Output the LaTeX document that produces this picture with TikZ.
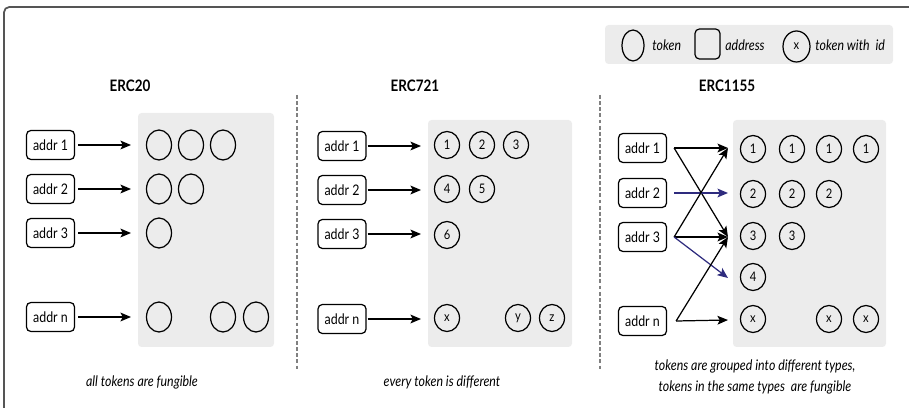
\documentclass[tikz,border=0pt]{standalone}
\usepackage{fontspec}
\setmainfont{Lato}[FakeStretch=0.85]
\usetikzlibrary{shapes.geometric,arrows.meta}
\definecolor{panel}{HTML}{ECECEC}
\definecolor{navy}{HTML}{2E2B7E}
\definecolor{framecol}{HTML}{555555}
\tikzset{
  addr/.style={draw, rounded corners=2.5pt, minimum width=0.96cm, minimum height=0.58cm,
    inner sep=0pt, line width=0.7pt, font=\fontsize{8.3}{9}\selectfont},
  tok/.style={draw, ellipse, minimum width=0.5cm, minimum height=0.6cm, inner sep=0pt, line width=0.7pt},
  idtok/.style={draw, ellipse, minimum width=0.5cm, minimum height=0.54cm, inner sep=0pt,
    line width=0.7pt, font=\fontsize{7.5}{8}\selectfont},
  panelbox/.style={fill=panel, rounded corners=2pt},
  link/.style={-{Stealth[length=6pt,width=5pt,inset=1.3pt]}, line width=0.7pt},
  title/.style={font=\fontsize{9}{10}\selectfont\bfseries},
  caption/.style={font=\fontsize{8.3}{11.5}\selectfont\itshape, align=center},
  legendtext/.style={font=\fontsize{8.3}{9}\selectfont\itshape, anchor=west, inner sep=0pt},
  divider/.style={gray, dash pattern=on 2.2pt off 1.3pt, line width=0.6pt},
}
\begin{document}
\begin{tikzpicture}[x=0.02cm, y=-0.02cm]
\useasboundingbox (0,0) rectangle (909,408);

% outer frame (top and left edges)
\draw[framecol, line width=1pt, rounded corners=3pt] (4,408) -- (4,7) -- (909,7);

% legend
\fill[panelbox] (605,25) rectangle (893,64);
\node[tok, minimum width=0.44cm, minimum height=0.62cm] (lt) at (633,45.5) {};
\node[legendtext] (ltt) at (652,45) {token};
\node[draw, rounded corners=2.5pt, minimum width=0.5cm, minimum height=0.6cm, inner sep=0pt, line width=0.7pt] (la) at (707.5,44) {};
\node[legendtext] (lat) at (725,45) {address};
\node[idtok, minimum width=0.54cm, minimum height=0.62cm] (lx) at (796.5,46.5) {x};
\node[legendtext] (lxt) at (815,45) {token with\ \ id};

% titles
\node[title] (t1) at (130,86) {ERC20};
\node[title] (t2) at (415,86) {ERC721};
\node[title] (t3) at (727,86) {ERC1155};

% dividers
\coordinate (d1a) at (297,95); \coordinate (d1b) at (297,369);
\coordinate (d2a) at (600,95); \coordinate (d2b) at (600,369);
\draw[divider] (d1a) -- (d1b);
\draw[divider] (d2a) -- (d2b);

% ---------- ERC20 ----------
\fill[panelbox] (138,113) rectangle (274,347);
\foreach \r/\y/\lab in {1/145/1, 2/189/2, 3/233/3, n/317/n}{
  \node[addr] (A\r) at (50.5,\y) {addr \lab};
  \coordinate (Ae\r) at (131,\y);
  \draw[link, shorten <=3*0.02cm] (A\r.east) -- (Ae\r);
}
\foreach \x [count=\i] in {159,191,223} \node[tok] (f1\i) at (\x,145) {};
\foreach \x [count=\i] in {159,191} \node[tok] (f2\i) at (\x,189) {};
\node[tok] (f31) at (159,233) {};
\foreach \x [count=\i] in {159,223,256} \node[tok] (fn\i) at (\x,317) {};
\node[caption] (c1) at (142,382) {all tokens are fungible};

% ---------- ERC721 ----------
\fill[panelbox] (428,120) rectangle (572,347);
\foreach \r/\y/\lab in {1/146/1, 2/190/2, 3/234/3, n/319/n}{
  \node[addr] (B\r) at (342,\y) {addr \lab};
  \coordinate (Be\r) at (421,\y);
  \draw[link, shorten <=1*0.02cm] (B\r.east) -- (Be\r);
}
\foreach \x/\t [count=\i] in {447/1,482/2,516/3} \node[idtok] (u1\i) at (\x,145) {\t};
\foreach \x/\t [count=\i] in {447/4,482/5} \node[idtok] (u2\i) at (\x,189) {\t};
\node[idtok] (u31) at (447,235) {6};
\foreach \x/\t [count=\i] in {447/x,518/y,552/z} \node[idtok] (un\i) at (\x,318) {\t};
\node[caption] (c2) at (442,382) {every token is different};

% ---------- ERC1155 ----------
\fill[panelbox] (733,120) rectangle (886,347);
\foreach \r/\y/\lab in {1/148/1, 2/193/2, 3/237/3, n/321/n}{
  \node[addr] (C\r) at (642.5,\y) {addr \lab};
}
\foreach \r/\y in {1/148, 2/193, 3/237, 4/278, n/320}{
  \coordinate (Ce\r) at (728,\y);
}
\foreach \x [count=\i] in {753,792,829,866} \node[idtok] (m1\i) at (\x,149) {1};
\foreach \x [count=\i] in {753,792,829} \node[idtok] (m2\i) at (\x,194) {2};
\foreach \x [count=\i] in {753,792} \node[idtok] (m3\i) at (\x,236) {3};
\node[idtok] (m41) at (753,277) {4};
\node[idtok] (mn1) at (753,319) {x};
\node[idtok] (mn2) at (829,319) {x};
\node[idtok] (mn3) at (866,319) {x};

\draw[link] ([xshift=0.14cm]C1.east) -- (Ce1);
\draw[link] ([xshift=0.14cm]C1.east) -- (Ce3);
\draw[link, navy] ([xshift=0.14cm]C2.east) -- (Ce2);
\draw[link] ([xshift=0.14cm]C3.east) -- (Ce1);
\draw[link] ([xshift=0.14cm]C3.east) -- (Ce3);
\draw[link, navy] ([xshift=0.14cm]C3.east) -- (Ce4);
\draw[link] ([xshift=0.18cm]Cn.east) -- (Ce3);
\draw[link] ([xshift=0.18cm]Cn.east) -- (Cen);

\node[caption] (c3) at (755,377) {tokens are grouped into different types,\\ tokens in the same types\ \ are fungible};
\end{tikzpicture}
\end{document}
